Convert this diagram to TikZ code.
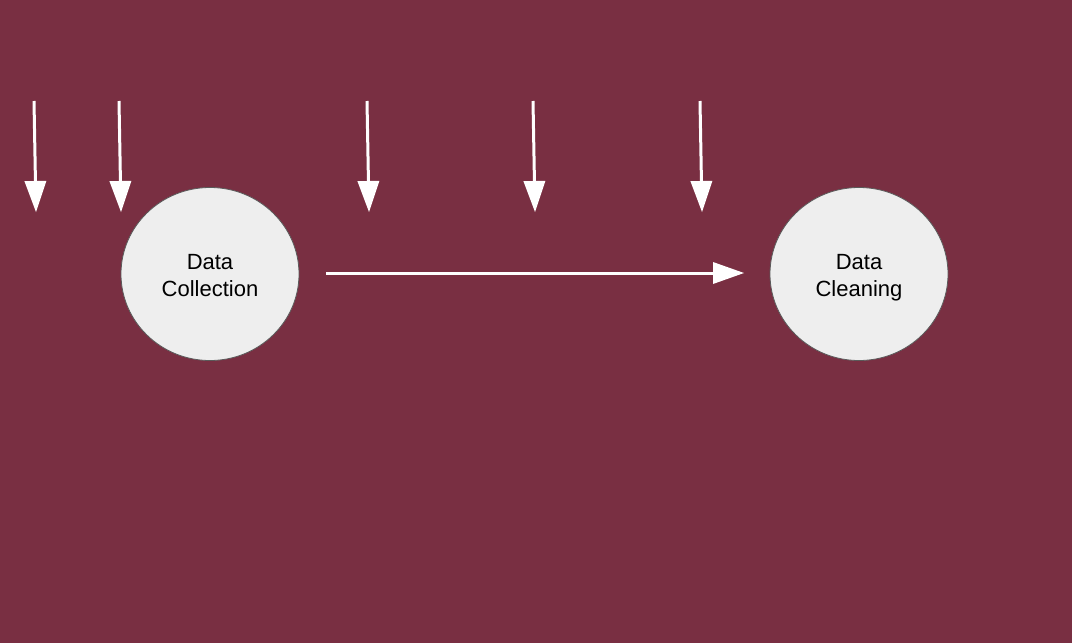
\documentclass[tikz,border=0pt]{standalone}
\usepackage{fontspec}
\setmainfont{Liberation Sans}
\usetikzlibrary{arrows.meta,shapes.geometric}
\definecolor{bgred}{HTML}{792F42}
\definecolor{nodefill}{HTML}{EEEEEE}
\definecolor{nodeborder}{HTML}{5A5A5A}
\tikzset{
  procnode/.style={ellipse, draw=nodeborder, line width=0.8pt, fill=nodefill,
    minimum width=178pt, minimum height=173pt, inner sep=0pt, align=center,
    font=\fontsize{22}{27}\selectfont, text=black},
  flowarrow/.style={draw=white, line width=3pt,
    -{Triangle[width=22pt,length=31pt,line width=0pt]}}
}
\begin{document}
\begin{tikzpicture}[x=1pt,y=-1pt]
\fill[bgred] (0,0) rectangle (1072,643);
\useasboundingbox (0,0) rectangle (1072,643);
\node[procnode] (collect) at (210,274) {\rule{0pt}{27pt}Data\\Collection\strut};
\node[procnode] (clean) at (859,274) {\rule{0pt}{27pt}Data\\Cleaning\strut};
\coordinate (s1) at (34,101); \coordinate (e1) at (36,212);
\coordinate (s2) at (119,101); \coordinate (e2) at (121,212);
\coordinate (s3) at (367,101); \coordinate (e3) at (369,212);
\coordinate (s4) at (533,101); \coordinate (e4) at (535,212);
\coordinate (s5) at (700,101); \coordinate (e5) at (702,212);
\coordinate (hs) at (326,273); \coordinate (he) at (744,273);
\foreach \i in {1,...,5} \draw[flowarrow] (s\i) -- (e\i);
\draw[flowarrow] (hs) -- (he);
\end{tikzpicture}
\end{document}
